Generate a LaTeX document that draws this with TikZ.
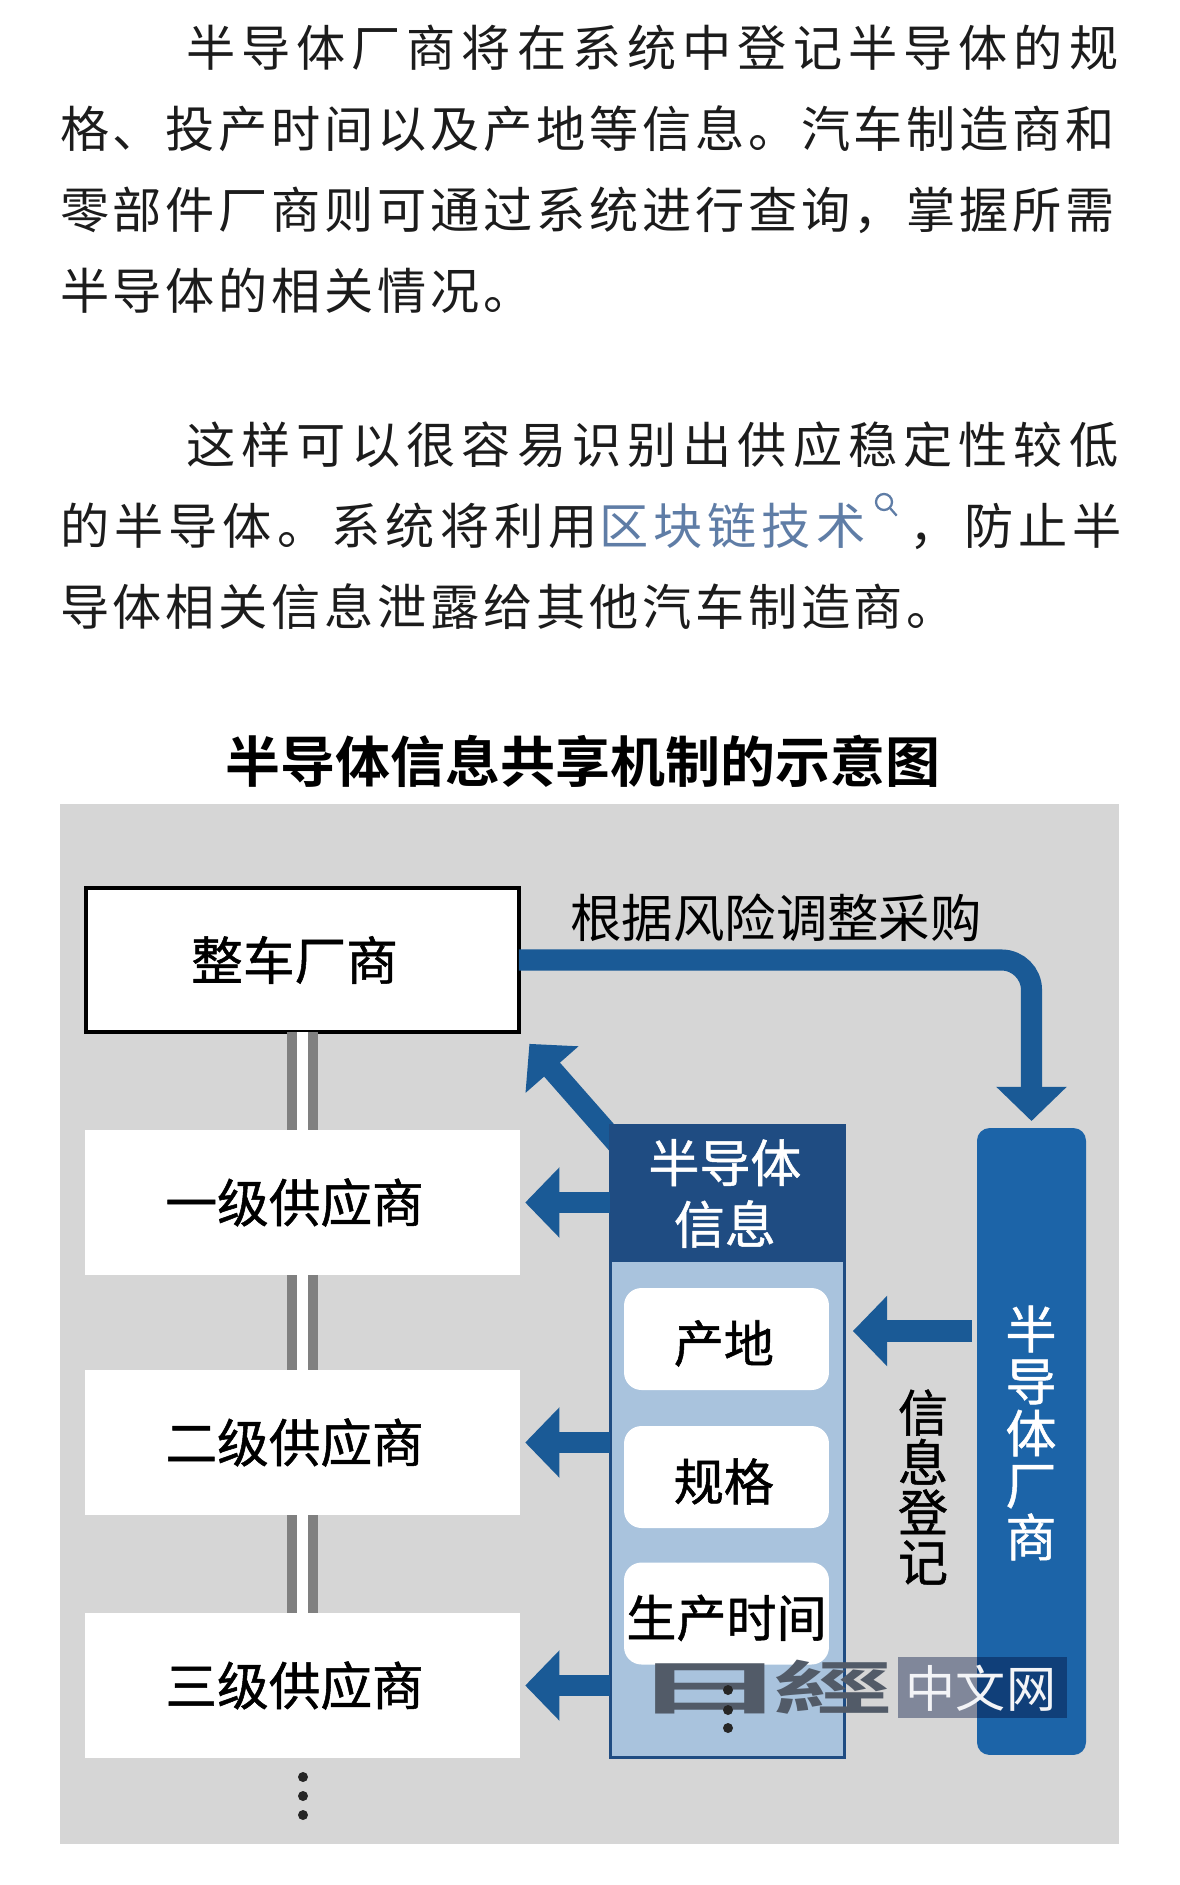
\documentclass[tikz,border=0pt]{standalone}
\usepackage{fontspec}
\usetikzlibrary{arrows.meta}
\newfontfamily\textplain[LetterSpace=7.6]{Noto Sans CJK SC}
\newfontfamily\textmid[LetterSpace=10.4]{Noto Sans CJK SC}
\newfontfamily\textwide[LetterSpace=12.2]{Noto Sans CJK SC}
\newfontfamily\labelfont[FakeBold=1]{Noto Sans CJK SC}
\newfontfamily\plainfont{Noto Sans CJK SC}
\newfontfamily\titlefont{Noto Sans CJK SC Bold}
\definecolor{backdropgray}{HTML}{D6D6D6}
\definecolor{railgray}{HTML}{808080}
\definecolor{arrowblue}{HTML}{1A5A96}
\definecolor{headerblue}{HTML}{1F4C82}
\definecolor{panelblue}{HTML}{A9C3DD}
\definecolor{makerblue}{HTML}{1C64A8}
\definecolor{linkblue}{HTML}{5F7DA6}
\definecolor{bodyink}{HTML}{1C1C1C}
\definecolor{logoslate}{HTML}{525B68}
\definecolor{markshade}{HTML}{99A1B8}
\tikzset{
    x=0.02cm, y=-0.02cm,
    every node/.style={inner sep=0pt, outer sep=0pt},
    line1/.style={anchor=west, text=bodyink, font=\fontsize{28pt}{32pt}\textwide},
    line2/.style={anchor=west, text=bodyink, font=\fontsize{28pt}{32pt}\textplain},
    line3/.style={anchor=west, text=bodyink, font=\fontsize{28pt}{32pt}\textmid},
    tierbox/.style={fill=white, minimum width=8.7cm, minimum height=2.9cm, font=\fontsize{29.4pt}{34pt}\labelfont, execute at end node={\hspace{9pt}}},
    fieldbox/.style={fill=white, rounded corners=0.35cm, minimum width=4.1cm, minimum height=2.04cm, text height=29pt, font=\fontsize{28.5pt}{34pt}\labelfont},
    rail/.style={draw=railgray, double=white, line width=5.7pt, double distance=6.8pt},
    flow/.style={draw=arrowblue, line width=12pt, -{Triangle[width=39pt,length=19.5pt]}},
    smalldot/.style={circle, fill=black!85, minimum size=0.2cm},
    logomark/.style={text=logoslate, transform shape, font=\fontsize{33pt}{38pt}\titlefont},
}
\begin{document}
\begin{tikzpicture}
    \useasboundingbox (0,0) rectangle (1179,1885);
    % Text above the figure
    \node at (186,48) [line1] (p1) {半导体厂商将在系统中登记半导体的规};
    \node at (60,129) [line2] (p2) {格、投产时间以及产地等信息。汽车制造商和};
    \node at (60,210) [line2] (p3) {零部件厂商则可通过系统进行查询，掌握所需};
    \node at (60,291) [line2] (p4) {半导体的相关情况。};
    \node at (186,445) [line1] (p5) {这样可以很容易识别出供应稳定性较低};
    \node at (60,526) [line3] (p6) {的半导体。系统将利用};
    \node at (599,526) [line3, text=linkblue] (p6link) {区块链技术};
    \node at (884,502) [circle, draw=linkblue, line width=1.3pt, minimum size=0.32cm] (lens) {};
    \draw[linkblue, line width=1.3pt] (lens.south east) -- ++(7,8);
    \node at (1122,526) [line3, anchor=east] (p6end) {，防止半};
    \node at (60,607) [line2] (p7) {导体相关信息泄露给其他汽车制造商。};

    % Title and grey ground
    \node at (583,761) [font=\fontsize{31.3pt}{36pt}\titlefont] (title) {半导体信息共享机制的示意图};
    \node at (589.5,1324) [fill=backdropgray, minimum width=21.18cm, minimum height=20.8cm] (backdrop) {};

    % Left column
    \node at (302.5,960) [tierbox, draw=black, line width=2.2pt, minimum width=8.66cm, minimum height=2.88cm] (car) {整车厂商};
    \node at (302.5,1202.5) [tierbox] (tier1) {一级供应商};
    \node at (302.5,1442.5) [tierbox] (tier2) {二级供应商};
    \node at (302.5,1685.5) [tierbox] (tier3) {三级供应商};
    \draw[rail] (car.south) -- (tier1.north);
    \draw[rail] (tier1.south) -- (tier2.north);
    \draw[rail] (tier2.south) -- (tier3.north);
    \node at (303,1777) [smalldot] (more1) {};
    \node at (303,1796) [smalldot] (more2) {};
    \node at (303,1815) [smalldot] (more3) {};

    % Slanted arrow runs under the header
    \coordinate (slantfoot) at (628,1156);
    \draw[flow, shorten >=9pt] (slantfoot) -- (car.south east);

    % Information panel
    \node at (727.5,1441.5) [fill=panelblue, draw=headerblue, line width=1.7pt, minimum width=4.7cm, minimum height=12.66cm] (panel) {};
    \node at (727.5,1193.5) [fill=headerblue, text=white, align=center, minimum width=4.7cm, minimum height=2.74cm, font=\fontsize{29pt}{35pt}\labelfont, execute at end node={\hspace{3pt}}] (header) {半导体\\信息};
    \node at (726.5,1339) [fieldbox, execute at end node={\hspace{3pt}}] (place) {产地};
    \node at (726.5,1477) [fieldbox, execute at end node={\hspace{3pt}}] (spec) {规格};
    \node at (726.5,1613.5) [fieldbox] (when) {生产时间};

    % Semiconductor maker
    \node at (1031.5,1441.5) [fill=makerblue, rounded corners=0.25cm, minimum width=2.18cm, minimum height=12.54cm] (makerbar) {};
    \node at (1031,1433) [text=white, align=center, font=\fontsize{29pt}{29.6pt}\labelfont] (makertext) {半\\导\\体\\厂\\商};
    \node at (923,1487) [align=center, font=\fontsize{28.5pt}{28.4pt}\labelfont] (register) {信\\息\\登\\记};
    \node at (776,918) [font=\fontsize{29.3pt}{34pt}\plainfont] (adjust) {根据风险调整采购};

    % Arrows
    \draw[flow, rounded corners=0.6cm, shorten >=4pt] (car.east) -| (makerbar.north);
    \draw[flow, shorten >=3pt] (header.west |- tier1.east) -- (tier1.east);
    \draw[flow, shorten >=3pt] (panel.west |- tier2.east) -- (tier2.east);
    \draw[flow, shorten >=3pt] (panel.west |- tier3.east) -- (tier3.east);
    \coordinate (regline) at (900,1331);
    \draw[flow, shorten <=3pt, shorten >=4.5pt] (makerbar.west |- regline) -- (panel.east |- regline);

    % Watermark
    \node at (982.5,1687.5) [fill=markshade, blend mode=multiply, minimum width=3.38cm, minimum height=1.22cm] (wmark) {};
    \node at (981,1688) [text=white!88!markshade, font=\fontsize{28.5pt}{34pt}\plainfont] (wtext) {中文网};
    \node at (710,1689) [logomark, xscale=2.7] (wlogo1) {日};
    \node at (833,1687) [logomark, xscale=2.05] (wlogo2) {經};
    \node at (728,1690) [smalldot] (pdot1) {};
    \node at (728,1710) [smalldot] (pdot2) {};
    \node at (728,1728) [smalldot] (pdot3) {};
\end{tikzpicture}
\end{document}
